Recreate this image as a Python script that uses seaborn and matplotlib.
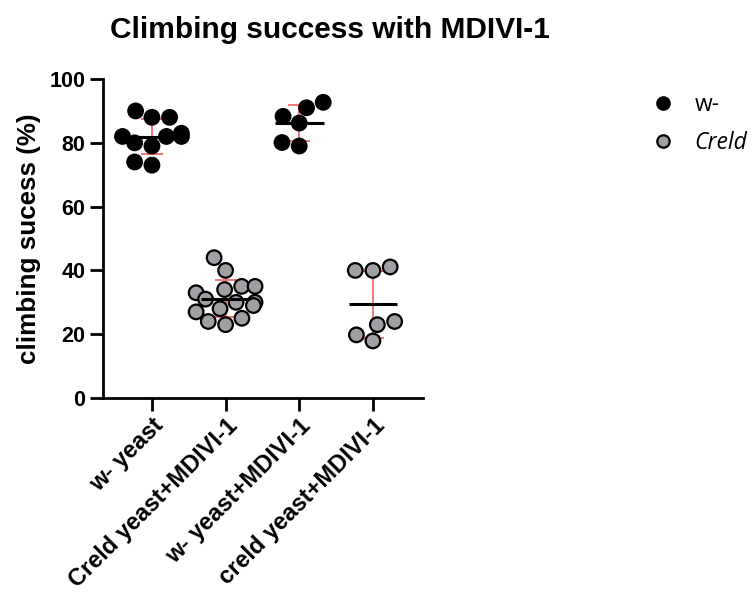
import numpy as np
import pandas as pd
import matplotlib
matplotlib.use("Agg")
import matplotlib.pyplot as plt
import seaborn as sns

# Climbing success (%) per vial, grouped by genotype / treatment
groups = ["w- yeast", "Creld yeast+MDIVI-1", "w- yeast+MDIVI-1", "creld yeast+MDIVI-1"]
genotype_of_group = ["w-", "Creld", "w-", "Creld"]
w_yeast = [90, 88, 88, 82, 82, 83, 82, 80, 79, 74, 73]
creld_yeast_mdivi = [44, 40, 35, 35, 33, 34, 31, 30, 30, 29, 28, 27, 25, 24, 23]
w_yeast_mdivi = [91, 92.7, 88.3, 86.2, 80.1, 79.0]
creld2_yeast_mdivi = [40, 40, 41.1, 23, 24, 19.8, 17.9]
values_by_group = [w_yeast, creld_yeast_mdivi, w_yeast_mdivi, creld2_yeast_mdivi]

rows = []
for g, geno, vals in zip(groups, genotype_of_group, values_by_group):
    for v in vals:
        rows.append({"group": g, "genotype": geno, "value": v})
df = pd.DataFrame(rows)

sns.set_theme(style="ticks")
plt.rcParams["font.family"] = ["Liberation Sans", "DejaVu Sans"]
for key in ["text.color", "axes.labelcolor", "xtick.color", "ytick.color",
            "axes.edgecolor"]:
    plt.rcParams[key] = "black"

fig = plt.figure(figsize=(7.56, 5.93), dpi=100)
ax = fig.add_axes([0.1362, 0.3288, 0.4233, 0.5379])

palette = {"w-": "#000000", "Creld": "#A0A0A4"}
sns.swarmplot(data=df, x="group", y="value", hue="genotype", order=groups,
              hue_order=["w-", "Creld"], palette=palette, size=10.5,
              edgecolor="black", linewidth=1.6, ax=ax, zorder=3)

# mean line and SD error bars for each group
summary = df.groupby("group", sort=False)["value"].agg(["mean", "std"]).reindex(groups)
for i, (m, s) in enumerate(zip(summary["mean"], summary["std"])):
    ax.errorbar(i, m, yerr=s, fmt="none", ecolor="#F26A6A", elinewidth=1.3,
                capsize=8, capthick=1.3, zorder=2)
    ax.hlines(m, i - 0.33, i + 0.33, color="black", linewidth=2.2, zorder=4)

ax.set_xlim(-0.665, 3.68)
ax.set_ylim(0, 100)
ax.set_yticks([0, 20, 40, 60, 80, 100])
for side in ["top", "right"]:
    ax.spines[side].set_visible(False)
for side in ["left", "bottom"]:
    ax.spines[side].set_linewidth(2.0)
    ax.spines[side].set_color("black")
ax.tick_params(axis="both", width=2.0, length=9.5, color="black", labelcolor="black")
ax.tick_params(axis="y", labelsize=15.5, pad=3)
ax.tick_params(axis="x", labelsize=17, pad=2)
for lbl in ax.get_yticklabels():
    lbl.set_fontweight("bold")
ax.set_xticks(range(len(groups)))
ax.set_xticklabels(groups, rotation=45, ha="right", rotation_mode="anchor",
                   fontweight="bold")
ax.set_xlabel("")
ax.set_ylabel("climbing sucess (%)", fontsize=18.7, fontweight="bold", labelpad=6,
              color="black")

fig.text(0.437, 0.949, "Climbing success with MDIVI-1", ha="center", va="center",
         fontsize=21.5, fontweight="bold", color="black")

sns.move_legend(ax, "upper left", bbox_to_anchor=(0.82, 0.878),
                bbox_transform=fig.transFigure, frameon=False, title=None,
                fontsize=16.5, labelspacing=0.6, handletextpad=0.35,
                markerscale=0.85)
leg = ax.get_legend()
for t in leg.get_texts():
    t.set_family(["Open Sans", "DejaVu Sans"])
    t.set_color("black")
    if t.get_text() == "Creld":
        t.set_style("italic")

fig.savefig("out.png", dpi=100)
